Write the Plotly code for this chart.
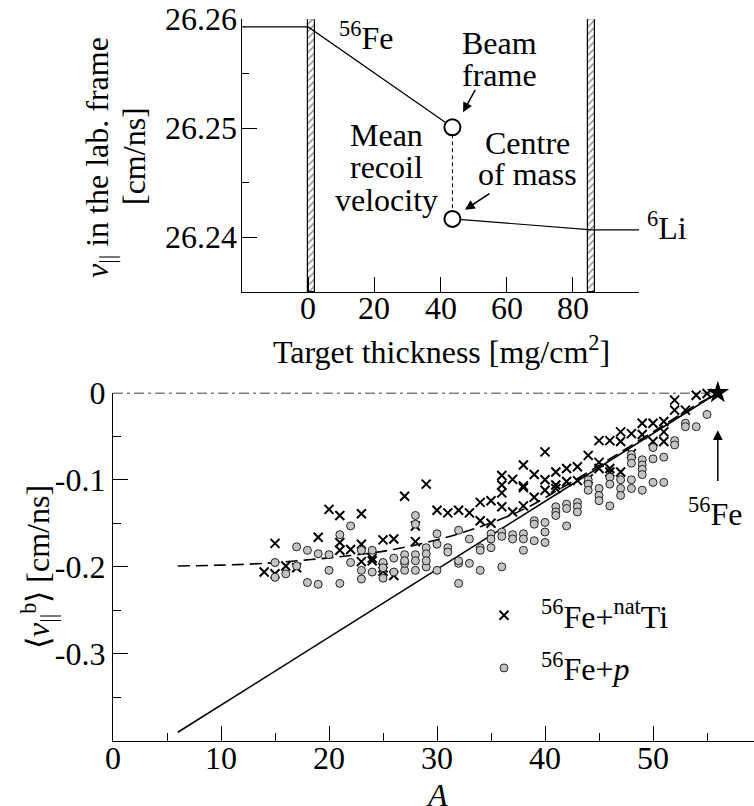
import plotly.graph_objects as go

W, H = 754, 806
FONT = "Liberation Serif"
FS = 32

# ---------------- top panel data ----------------
target_x = [1.0, 85.7]          # centre of hatched target foils [mg/cm2]
target_w = [2.0, 2.0]
fe_thick = [-20, 0, 43.6]
fe_vel = [26.2593, 26.2593, 26.2501]
li_thick = [43.6, 85.7, 100]
li_vel = [26.2417, 26.2407, 26.2407]
mean_thick = [43.6, 43.6]
mean_vel = [26.2501, 26.2417]
top_xticks = [0, 20, 40, 60, 80]
top_yticks = [26.24, 26.25, 26.26]

# ---------------- bottom panel data ----------------
ti_A = [14, 15, 15, 16, 17, 19, 20, 21, 21, 21, 22, 23, 23, 23, 24, 24, 25, 25, 25, 26, 26,
        27, 28, 28, 29, 30, 31, 32, 33, 34, 34, 35, 35, 36, 36, 36, 36, 37, 37,
        38, 38, 38, 38, 39, 39, 40, 40, 40, 41, 41, 41, 42, 42, 43, 43, 44, 44, 45, 45, 45,
        46, 46, 46, 47, 47, 47, 48, 48, 49, 49, 50, 50, 51, 51, 51, 52, 52, 53, 54, 55]
ti_v = [-0.206, -0.208, -0.173, -0.199, -0.201, -0.166, -0.134, -0.141, -0.172, -0.181,
        -0.180, -0.139, -0.174, -0.194, -0.190, -0.193, -0.169, -0.201, -0.205, -0.168, -0.210,
        -0.119, -0.153, -0.171, -0.105, -0.135, -0.138, -0.135, -0.138, -0.126, -0.147,
        -0.124, -0.150, -0.095, -0.106, -0.115, -0.131, -0.0995, -0.137,
        -0.083, -0.107, -0.109, -0.130, -0.094, -0.120, -0.068, -0.100, -0.112,
        -0.091, -0.106, -0.110, -0.087, -0.102, -0.085, -0.101, -0.072, -0.099, -0.055, -0.080, -0.087,
        -0.055, -0.087, -0.091, -0.045, -0.056, -0.091, -0.047, -0.070, -0.035, -0.048,
        -0.035, -0.056, -0.033, -0.045, -0.056, -0.0085, -0.020, -0.020, -0.003, -0.001]

p_A = [15, 15, 16, 17, 17, 18, 18, 19, 19, 20, 20, 21, 21, 22, 22, 23, 23, 23, 24, 24,
       25, 25, 25, 26, 26, 27, 27, 27, 27, 28, 28, 28, 28, 28, 29, 29, 29, 29, 30, 30, 30,
       31, 31, 32, 32, 32, 32, 33, 33, 34, 34, 34, 35, 35, 35, 36, 36, 36, 37, 37,
       38, 38, 38, 39, 39, 39, 40, 40, 40, 41, 41, 41, 42, 42, 42, 43, 43, 43,
       44, 44, 44, 45, 45, 45, 46, 46, 46, 47, 47, 47, 48, 48, 48, 48, 48,
       49, 49, 49, 49, 49, 50, 50, 50, 51, 51, 52, 52, 53, 53, 54, 55]
p_v = [-0.212, -0.195, -0.208, -0.199, -0.177, -0.218, -0.181, -0.220, -0.185, -0.204, -0.186,
       -0.219, -0.163, -0.195, -0.153, -0.204, -0.214, -0.181, -0.206, -0.181,
       -0.213, -0.195, -0.201, -0.206, -0.190, -0.204, -0.196, -0.186, -0.193,
       -0.204, -0.141, -0.151, -0.186, -0.193, -0.200, -0.178, -0.185, -0.193,
       -0.204, -0.162, -0.174, -0.178, -0.183, -0.219, -0.196, -0.158, -0.193,
       -0.196, -0.168, -0.204, -0.178, -0.181, -0.162, -0.168, -0.178,
       -0.200, -0.160, -0.165, -0.163, -0.168, -0.162, -0.168, -0.181,
       -0.147, -0.151, -0.170, -0.149, -0.160, -0.172, -0.131, -0.137, -0.141,
       -0.128, -0.133, -0.153, -0.126, -0.131, -0.137, -0.100, -0.105, -0.112,
       -0.110, -0.118, -0.124, -0.097, -0.105, -0.130, -0.100, -0.110, -0.118,
       -0.071, -0.075, -0.081, -0.100, -0.110, -0.077, -0.083, -0.088, -0.094, -0.112,
       -0.063, -0.076, -0.103, -0.074, -0.103, -0.055, -0.060, -0.035, -0.039, -0.039, -0.025]

line_A = [6, 56]
line_v = [-0.390, 0.0]
curve_A = [6, 10, 14, 18, 22, 26, 30, 34, 38, 42, 46, 50, 54, 56]
curve_v = [-0.199, -0.198, -0.196, -0.192, -0.187, -0.180, -0.169, -0.154, -0.134,
           -0.106, -0.076, -0.045, -0.014, -0.001]
zero_A = [0, 56]
zero_v = [0, 0]
fe_point_A = [56]
fe_point_v = [0.0]
bot_xticks = [0, 10, 20, 30, 40, 50]


def px(x):
    return x / W


def py(y):
    return 1 - y / H


fig = go.Figure()

# top panel
fig.add_trace(go.Bar(x=target_x, y=[0.025, 0.025], base=26.235, width=target_w,
                     marker=dict(color="white", line=dict(color="black", width=1.2),
                                 pattern=dict(shape="/", fgcolor="#222", bgcolor="white",
                                              size=5, solidity=0.3)),
                     xaxis="x", yaxis="y", showlegend=False))
fig.add_trace(go.Scatter(x=fe_thick, y=fe_vel, mode="lines", line=dict(color="black", width=1.2),
                         xaxis="x", yaxis="y", showlegend=False))
fig.add_trace(go.Scatter(x=li_thick, y=li_vel, mode="lines", line=dict(color="black", width=1.2),
                         xaxis="x", yaxis="y", showlegend=False))
fig.add_trace(go.Scatter(x=mean_thick, y=mean_vel, mode="lines+markers",
                         line=dict(color="black", width=1, dash="4px,3px"),
                         marker=dict(symbol="circle", size=16, color="white",
                                     line=dict(color="black", width=2)),
                         xaxis="x", yaxis="y", showlegend=False))

# bottom panel
fig.add_trace(go.Scatter(x=zero_A, y=zero_v, mode="lines",
                         line=dict(color="black", width=1.6, dash="10px,4px,3px,4px"),
                         xaxis="x2", yaxis="y2", showlegend=False, cliponaxis=False))
fig.add_trace(go.Scatter(x=line_A, y=line_v, mode="lines", line=dict(color="black", width=1.6),
                         xaxis="x2", yaxis="y2", showlegend=False))
fig.add_trace(go.Scatter(x=curve_A, y=curve_v, mode="lines", line_shape="spline",
                         line=dict(color="black", width=1.6, dash="12px,6px"),
                         xaxis="x2", yaxis="y2", showlegend=False))
fig.add_trace(go.Scatter(x=ti_A, y=ti_v, mode="markers", name="<sup>56</sup>Fe+<sup>nat</sup>Ti",
                         legendgroup="ti",
                         marker=dict(symbol="x-thin-open", size=9, color="black",
                                     line=dict(color="black", width=2)),
                         xaxis="x2", yaxis="y2", cliponaxis=False))
fig.add_trace(go.Scatter(x=p_A, y=p_v, mode="markers", name="<sup>56</sup>Fe+<i>p</i>",
                         legendgroup="p",
                         marker=dict(symbol="circle", size=8, color="#c4c4c4",
                                     line=dict(color="#222", width=1)),
                         xaxis="x2", yaxis="y2", cliponaxis=False))
fig.add_trace(go.Scatter(x=fe_point_A, y=fe_point_v, mode="markers",
                         marker=dict(symbol="star", size=17, color="black"),
                         xaxis="x2", yaxis="y2", showlegend=False, cliponaxis=False))

axis_common = dict(showgrid=False, zeroline=False, showline=True, linecolor="black",
                   linewidth=1.3, ticks="inside", tickcolor="black", tickwidth=1.3,
                   tickfont=dict(family=FONT, size=FS, color="black"), automargin=False)

ann = []


def text(x, y, s, size=FS, angle=0, xanchor="center"):
    ann.append(dict(x=px(x), y=py(y), xref="paper", yref="paper", text=s, showarrow=False,
                    xanchor=xanchor, yanchor="middle", textangle=angle,
                    font=dict(family=FONT, size=size, color="black")))


# tick labels placed through the axes' own scales
for t in top_xticks:
    ann.append(dict(x=t, y=py(308), xref="x", yref="paper", text=str(t), showarrow=False,
                    xanchor="center", yanchor="middle",
                    font=dict(family=FONT, size=FS, color="black")))
for t in top_yticks:
    ann.append(dict(x=px(239), y=t, xref="paper", yref="y", text=f"{t:.2f}", showarrow=False,
                    xanchor="right", yanchor="middle",
                    font=dict(family=FONT, size=FS, color="black")))
for t in bot_xticks:
    ann.append(dict(x=t, y=py(758), xref="x2", yref="paper", text=str(t), showarrow=False,
                    xanchor="center", yanchor="middle",
                    font=dict(family=FONT, size=FS, color="black")))

# top panel texts
text(366, 36, "<sup>56</sup>Fe")
text(499, 43, "Beam")
text(499, 75, "frame")
text(386, 135, "Mean")
text(386, 167, "recoil")
text(386, 200, "velocity")
text(527, 143, "Centre")
text(527, 174, "of mass")
text(645, 226, "<sup>6</sup>Li", xanchor="left")
text(441, 350, "Target thickness [mg/cm<sup>2</sup>]")
text(100, 158, "<i>v</i><sub>||</sub> in the lab. frame", angle=-90)
text(134, 156, "[cm/ns]", angle=-90)

# bottom panel texts
text(715, 512, "<sup>56</sup>Fe")
text(437, 795, "<i>A</i>")
text(38, 567, "⟨<i>v</i><sub>||</sub><sup>b</sup>⟩ [cm/ns]", angle=-90)

# arrows
ann.append(dict(x=46.8, y=26.25147, xref="x", yref="y", ax=13, ay=-24, text="",
                showarrow=True, arrowhead=2, arrowsize=1.3, arrowwidth=1.5, arrowcolor="black"))
ann.append(dict(x=47.4, y=26.24255, xref="x", yref="y", ax=26, ay=-17, text="",
                showarrow=True, arrowhead=2, arrowsize=1.3, arrowwidth=1.5, arrowcolor="black"))
ann.append(dict(x=56, y=-0.043, xref="x2", yref="y2", ax=56, ay=-0.103, axref="x2", ayref="y2",
                text="", showarrow=True, arrowhead=2, arrowsize=1.3, arrowwidth=1.5,
                arrowcolor="black"))

fig.update_layout(
    width=W, height=H, margin=dict(l=0, r=0, t=0, b=0),
    paper_bgcolor="white", plot_bgcolor="white",
    font=dict(family=FONT, size=FS, color="black"),
    bargap=0,
    xaxis=dict(axis_common, domain=[px(242), px(639)], range=[-20, 100], anchor="y",
               tickvals=[0, 20, 40, 60, 80, 100], showticklabels=False, ticklen=15),
    yaxis=dict(axis_common, domain=[py(292), py(19.3)], range=[26.235, 26.26], anchor="x",
               tickvals=top_yticks, showticklabels=False, ticklen=15,
               minor=dict(tickvals=[26.245, 26.255], ticklen=7, ticks="inside",
                          tickcolor="black", tickwidth=1.3)),
    xaxis2=dict(axis_common, domain=[px(113), 1.0], range=[0, 59.35], anchor="y2",
                tickvals=bot_xticks, showticklabels=False, ticklen=15,
                minor=dict(tickvals=[5, 15, 25, 35, 45, 55], ticklen=8, ticks="inside",
                           tickcolor="black", tickwidth=1.3)),
    yaxis2=dict(axis_common, domain=[py(741), py(392.7)], range=[-0.4, 0], anchor="x2",
                tickvals=[0, -0.1, -0.2, -0.3], ticktext=["0", "-0.1", "-0.2", "-0.3"],
                ticklen=15,
                minor=dict(tickvals=[-0.05, -0.15, -0.25, -0.35], ticklen=8, ticks="inside",
                           tickcolor="black", tickwidth=1.3)),
    legend=dict(x=px(467), y=py(588), xanchor="left", yanchor="top", itemwidth=64,
                traceorder="grouped", tracegroupgap=8,
                bgcolor="rgba(0,0,0,0)", font=dict(family=FONT, size=FS, color="black")),
    annotations=ann,
)

fig.write_html("out.html")
